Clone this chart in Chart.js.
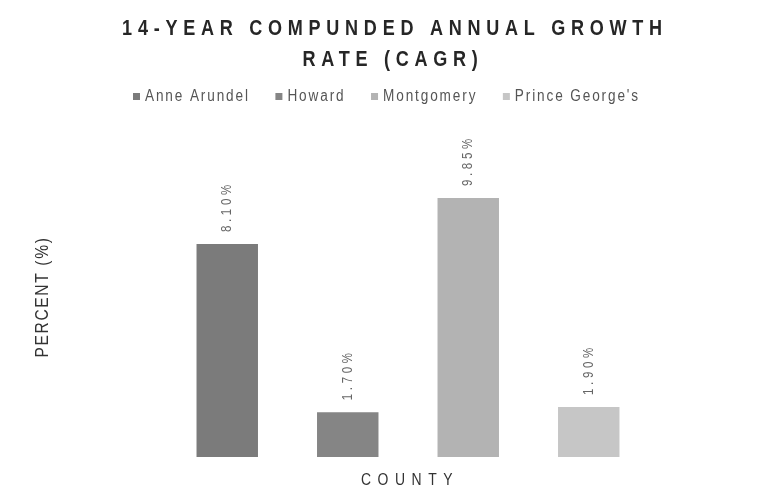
<!DOCTYPE html>
<html lang="en">
<head>
  <meta charset="UTF-8" />
  <title>14-Year CAGR</title>
  <style>
    html, body { margin: 0; padding: 0; background: #fff; }
    #wrap { width: 779px; height: 502px; }
  </style>
</head>
<body>
  <div id="wrap"><canvas id="cagr" width="779" height="502"></canvas></div>

  <script src="https://cdn.jsdelivr.net/npm/chart.js"></script>
  <script>
    const counties = ['Anne Arundel', 'Howard', 'Montgomery', "Prince George's"];
    const cagr = [8.10, 1.70, 9.85, 1.90];
    const valueLabels = ['8.10%', '1.70%', '9.85%', '1.90%'];
    const barColors = ['#7b7b7b', '#858585', '#b3b3b3', '#c6c6c6'];

    const titleLines = ['14-YEAR COMPUNDED ANNUAL GROWTH', 'RATE (CAGR)'];
    const xTitle = 'COUNTY';
    const yTitle = 'PERCENT (%)';

    const FONT = 'Arial, "Liberation Sans", sans-serif';

    // condensed, letter-spaced text (the scan uses a narrow face)
    function drawText(ctx, s, x, y, o) {
      ctx.save();
      ctx.translate(x, y);
      if (o.rot) ctx.rotate(o.rot);
      ctx.scale(o.sx || 1, 1);
      ctx.font = o.font;
      ctx.letterSpacing = (o.ls || 0) + 'px';
      ctx.fillStyle = o.color;
      ctx.textAlign = o.align || 'center';
      ctx.textBaseline = 'middle';
      ctx.fillText(s, 0, 0);
      ctx.restore();
    }
    function textWidth(ctx, s, o) {
      ctx.save();
      ctx.font = o.font;
      ctx.letterSpacing = (o.ls || 0) + 'px';
      const w = ctx.measureText(s).width * (o.sx || 1);
      ctx.restore();
      return w;
    }

    const textPlugin = {
      id: 'textPlugin',
      afterDraw(chart) {
        const ctx = chart.ctx;
        const area = chart.chartArea;

        // title
        const tOpt = { font: 'bold 22px ' + FONT, ls: 7, sx: 0.82, color: '#262626' };
        drawText(ctx, titleLines[0], 395, 29, tOpt);
        drawText(ctx, titleLines[1], 393, 60, tOpt);

        // legend
        const lOpt = { font: '16px ' + FONT, ls: 2.2, sx: 0.85, color: '#555', align: 'left' };
        const box = 7, gapBox = 5, left = 133, right = 640;
        const widths = counties.map(c => textWidth(ctx, c, lOpt));
        const used = widths.reduce((a, w) => a + box + gapBox + w, 0);
        const gap = (right - left - used) / (counties.length - 1);
        let x = left;
        counties.forEach((c, i) => {
          ctx.fillStyle = barColors[i];
          ctx.fillRect(x, 93, box, box);
          drawText(ctx, c, x + box + gapBox, 97, lOpt);
          x += box + gapBox + widths[i] + gap;
        });

        // axis titles
        drawText(ctx, xTitle, (area.left + area.right) / 2 + 2, 480,
          { font: '17px ' + FONT, ls: 8, sx: 0.82, color: '#333' });
        drawText(ctx, yTitle, 43, 297,
          { font: '19px ' + FONT, ls: 2, sx: 0.82, color: '#333', rot: -Math.PI / 2 });

        // value labels above bars, rotated
        const meta = chart.getDatasetMeta(0);
        meta.data.forEach((bar, i) => {
          drawText(ctx, valueLabels[i], bar.x, bar.y - 12,
            { font: '14px ' + FONT, ls: 4.5, sx: 0.82, color: '#666', align: 'left', rot: -Math.PI / 2 });
        });
      }
    };

    new Chart(document.getElementById('cagr').getContext('2d'), {
      type: 'bar',
      data: {
        labels: counties,
        datasets: [{
          label: 'CAGR',
          data: cagr,
          backgroundColor: barColors,
          borderWidth: 0,
          barPercentage: 0.51,
          categoryPercentage: 1
        }]
      },
      options: {
        responsive: false,
        animation: false,
        layout: { padding: { left: 167, right: 130, top: 89, bottom: 45 } },
        plugins: {
          legend: { display: false },
          title: { display: false },
          tooltip: { enabled: false }
        },
        scales: {
          x: { display: false },
          y: { display: false, min: 0, max: 14 }
        }
      },
      plugins: [textPlugin]
    });
  </script>
</body>
</html>
